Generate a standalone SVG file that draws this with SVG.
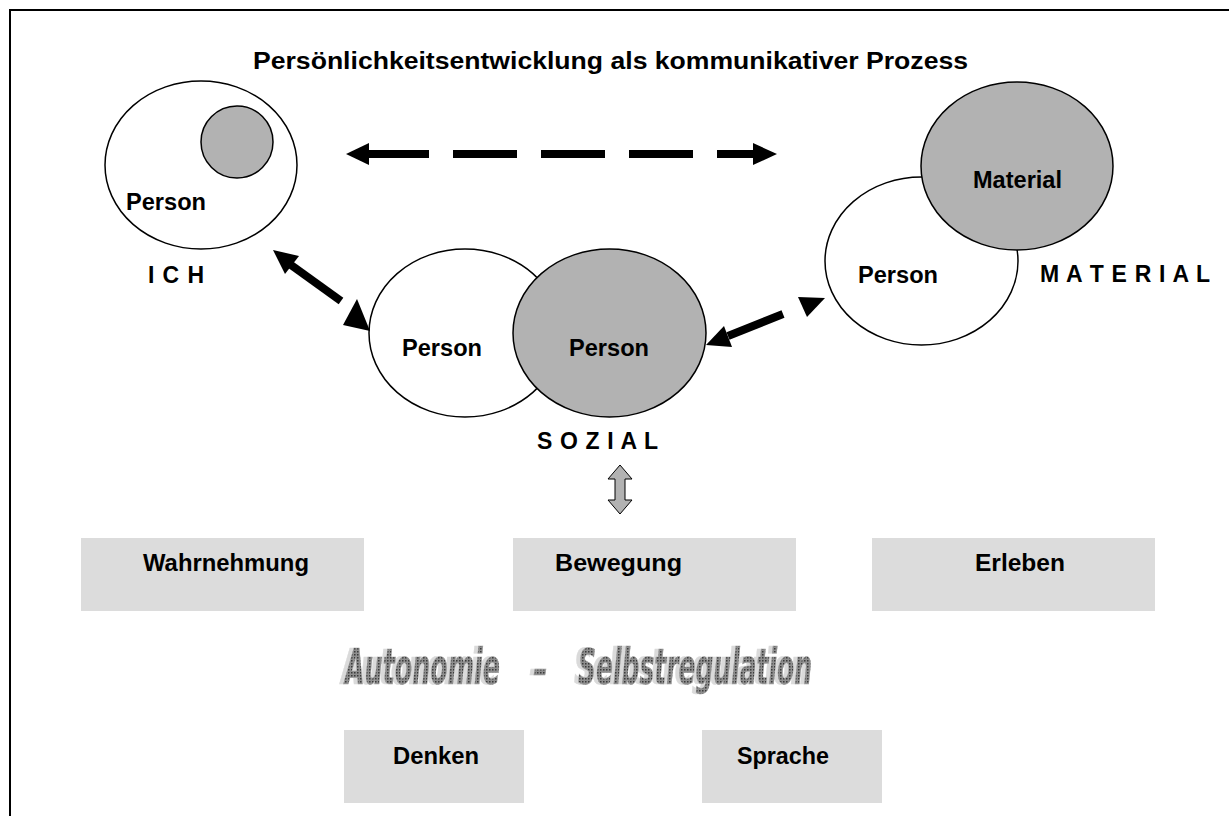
<svg xmlns="http://www.w3.org/2000/svg" width="1229" height="816" viewBox="0 0 1229 816">
<style>
.t{font-family:"Liberation Sans",Arial,sans-serif;font-weight:bold;font-size:23px;fill:#000}
.e{fill:#fff;stroke:#000;stroke-width:1.5}
.g{fill:#b2b2b2;stroke:#000;stroke-width:1.5}
.box{fill:#dcdcdc}
.ah{fill:#000}
.wa{font-family:"Liberation Sans Narrow","DejaVu Sans Condensed","Liberation Sans",sans-serif;font-weight:bold;font-style:italic;font-size:50px;fill:url(#dots);stroke:#9a9a9a;stroke-width:0.6}
</style>
<defs>
<pattern id="dots" width="3" height="3" patternUnits="userSpaceOnUse">
<rect width="3" height="3" fill="#8e8e8e"/>
<rect width="1.5" height="1.5" fill="#3a3a3a"/>
</pattern>
<filter id="sh" x="-5%" y="-10%" width="110%" height="130%">
<feOffset in="SourceAlpha" dx="-4" dy="0" result="o"/>
<feFlood flood-color="#dadada"/>
<feComposite in2="o" operator="in" result="s"/>
<feMerge><feMergeNode in="s"/><feMergeNode in="SourceGraphic"/></feMerge>
</filter>
</defs>
<rect width="1229" height="816" fill="#fff"/>
<path d="M10 816 V10 H1229" fill="none" stroke="#000" stroke-width="2"/>
<g id="title"><text class="t" x="253" y="69" font-size="25" textLength="715" lengthAdjust="spacingAndGlyphs">Persönlichkeitsentwicklung als kommunikativer Prozess</text></g>
<g id="ich">
<ellipse class="e" cx="201" cy="165" rx="96" ry="84"/>
<circle class="g" cx="237" cy="142" r="36"/>
<text class="t" x="126" y="210" textLength="80" lengthAdjust="spacingAndGlyphs">Person</text>
<text class="t" x="148" y="283" textLength="56">I C H</text>
</g>
<g id="sozial">
<ellipse class="e" cx="465" cy="333" rx="96" ry="84"/>
<ellipse class="g" cx="609.5" cy="333" rx="96.5" ry="84"/>
<text class="t" x="402" y="356" textLength="80" lengthAdjust="spacingAndGlyphs">Person</text>
<text class="t" x="569" y="356" textLength="80" lengthAdjust="spacingAndGlyphs">Person</text>
<text class="t" x="537" y="449" textLength="121">S O Z I A L</text>
</g>
<g id="material">
<ellipse class="e" cx="921.5" cy="261" rx="96.5" ry="84"/>
<ellipse class="g" cx="1017" cy="166" rx="96" ry="84"/>
<text class="t" x="973" y="188" textLength="89" lengthAdjust="spacingAndGlyphs">Material</text>
<text class="t" x="858" y="283" textLength="80" lengthAdjust="spacingAndGlyphs">Person</text>
<text class="t" x="1040" y="282" textLength="170">M A T E R I A L</text>
</g>
<g id="connectors">
<polygon class="ah" points="346,154 369,143 369,165"/>
<rect class="ah" x="369" y="150" width="60" height="8"/>
<rect class="ah" x="453" y="150" width="64" height="8"/>
<rect class="ah" x="541" y="150" width="64" height="8"/>
<rect class="ah" x="629" y="150" width="64" height="8"/>
<rect class="ah" x="717" y="150" width="36" height="8"/>
<polygon class="ah" points="777,154 753,143 753,165"/>
<polygon class="ah" points="273,250 285,274 299,256"/>
<line x1="291" y1="265" x2="341" y2="301" stroke="#000" stroke-width="8"/>
<polygon class="ah" points="357,299 343,325 370,331"/>
<polygon class="ah" points="706,345 724,326 732,347"/>
<line x1="728" y1="336" x2="783" y2="314" stroke="#000" stroke-width="8"/>
<polygon class="ah" points="798,297 807,317 825,298"/>
<path d="M620 465 L632 479 L625 479 L625 500 L632 500 L620 514 L608 500 L615 500 L615 479 L608 479 Z" fill="#b2b2b2" stroke="#000" stroke-width="1"/>
</g>
<g id="wahrnehmung"><rect class="box" x="81" y="538" width="283" height="73"/><text class="t" x="143" y="571" textLength="166" lengthAdjust="spacingAndGlyphs">Wahrnehmung</text></g>
<g id="bewegung"><rect class="box" x="513" y="538" width="283" height="73"/><text class="t" x="555" y="571" textLength="127" lengthAdjust="spacingAndGlyphs">Bewegung</text></g>
<g id="erleben"><rect class="box" x="872" y="538" width="283" height="73"/><text class="t" x="975" y="571" textLength="90" lengthAdjust="spacingAndGlyphs">Erleben</text></g>
<g id="autonomie" filter="url(#sh)">
<text class="wa" y="684"><tspan x="345" textLength="155" lengthAdjust="spacingAndGlyphs">Autonomie</tspan><tspan x="533" font-size="40">-</tspan><tspan x="578" textLength="234" lengthAdjust="spacingAndGlyphs">Selbstregulation</tspan></text>
</g>
<g id="denken"><rect class="box" x="344" y="730" width="180" height="73"/><text class="t" x="393" y="764" textLength="86" lengthAdjust="spacingAndGlyphs">Denken</text></g>
<g id="sprache"><rect class="box" x="702" y="730" width="180" height="73"/><text class="t" x="737" y="764" textLength="92" lengthAdjust="spacingAndGlyphs">Sprache</text></g>
</svg>
